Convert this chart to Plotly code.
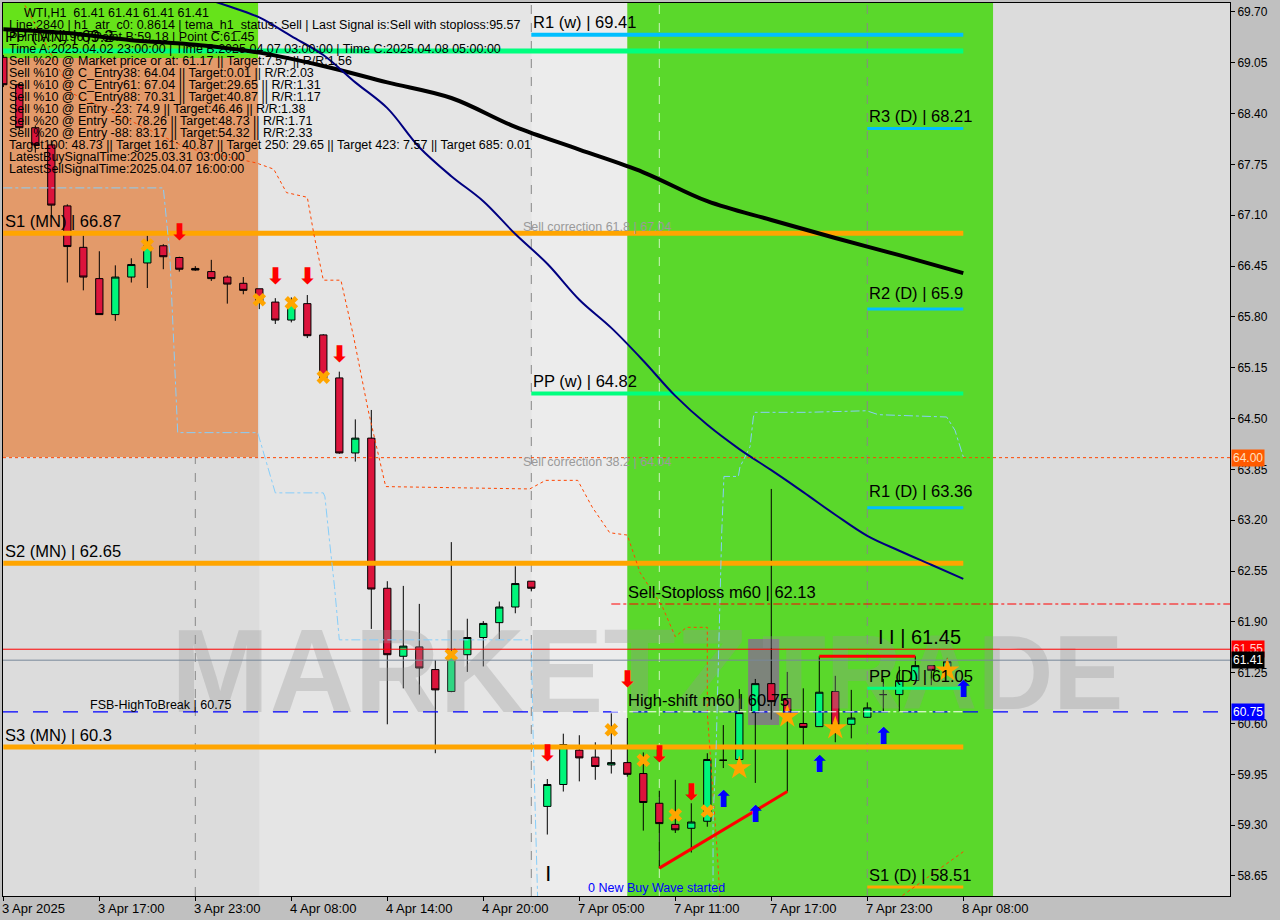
import plotly.graph_objects as go

# ---------------- data ----------------
bars = list(range(60))
opens = [69.12, 68.77, 68.22, 68.00, 67.22, 66.69, 66.29, 65.83, 66.31, 66.49,
         66.71, 66.56, 66.42, 66.38, 66.31, 66.23, 66.16, 65.99, 65.76, 65.97,
         65.57, 65.02, 64.06, 64.25, 62.33, 61.46, 61.58, 61.29, 61.01, 61.48,
         61.70, 61.89, 62.09, 62.42, 59.54, 59.82, 60.26, 60.17, 60.07, 60.10,
         59.96, 59.58, 59.31, 59.26, 59.35, 60.13, 60.14, 60.74, 61.11, 60.92,
         60.60, 60.56, 61.01, 60.59, 60.68, 60.97, 60.97, 61.15, 61.34, 61.28]
highs = [69.15, 68.79, 68.25, 68.06, 67.24, 66.84, 66.64, 66.46, 66.55, 66.84,
         66.73, 66.57, 66.45, 66.53, 66.33, 66.31, 66.16, 66.04, 66.05, 66.08,
         65.58, 65.10, 64.49, 64.61, 62.42, 62.36, 62.13, 61.41, 62.92, 61.94,
         61.91, 62.16, 62.61, 62.42, 59.89, 60.47, 60.45, 60.36, 60.73, 60.67,
         60.23, 59.74, 59.88, 59.58, 60.22, 60.58, 61.04, 61.17, 63.60, 61.26,
         61.05, 61.46, 61.21, 61.03, 60.87, 61.17, 61.33, 61.46, 61.34, 61.44]
lows = [68.74, 68.19, 67.90, 67.08, 66.24, 66.14, 65.83, 65.75, 66.24, 66.17,
        66.41, 66.38, 66.39, 66.26, 65.97, 66.09, 65.90, 65.71, 65.73, 65.53,
        65.02, 64.05, 63.95, 61.81, 60.59, 61.05, 60.97, 60.22, 61.00, 61.26,
        61.33, 61.68, 62.01, 62.29, 59.18, 59.73, 59.86, 59.88, 59.96, 59.92,
        59.23, 58.75, 59.20, 58.95, 59.28, 60.03, 60.14, 59.84, 60.65, 59.73,
        60.33, 60.56, 60.36, 60.41, 60.67, 60.75, 60.75, 61.11, 61.09, 61.28]
closes = [68.77, 68.22, 68.00, 67.23, 66.70, 66.31, 65.83, 66.31, 66.47, 66.71,
          66.57, 66.41, 66.40, 66.29, 66.22, 66.14, 65.99, 65.76, 65.96, 65.56,
          65.02, 64.06, 64.25, 62.32, 61.48, 61.59, 61.31, 61.03, 61.46, 61.70,
          61.88, 62.09, 62.39, 62.33, 59.82, 60.33, 60.16, 60.05, 60.10, 59.95,
          59.59, 59.32, 59.24, 59.34, 60.14, 60.13, 60.74, 61.11, 60.88, 60.65,
          60.55, 61.00, 60.58, 60.67, 60.80, 60.97, 61.15, 61.34, 61.28, 61.39]

tick_bars = [0, 6, 12, 18, 24, 30, 36, 42, 48, 54, 60]
tick_labels = ["3 Apr 2025", "3 Apr 17:00", "3 Apr 23:00", "4 Apr 08:00", "4 Apr 14:00",
               "4 Apr 20:00", "7 Apr 05:00", "7 Apr 11:00", "7 Apr 17:00", "7 Apr 23:00",
               "8 Apr 08:00"]
price_ticks = [58.65, 59.30, 59.95, 60.60, 61.25, 61.90, 62.55, 63.20, 63.85, 64.50,
               65.15, 65.80, 66.45, 67.10, 67.75, 68.40, 69.05, 69.70]

# moving averages
slow_ma_bars = [0, 4, 8, 12, 16, 20, 24, 28, 32, 36, 40, 44, 48, 52, 56, 60]
slow_ma_vals = [69.48, 69.43, 69.34, 69.28, 69.18, 69.01, 68.80, 68.60, 68.23, 67.94,
                67.65, 67.28, 67.04, 66.81, 66.59, 66.36]
fast_ma_bars = [11, 12, 14, 16, 18, 20, 22, 24, 26, 28, 30, 32, 34, 36, 38, 40, 42, 44,
                46, 48, 50, 52, 54, 56, 58, 60]
fast_ma_vals = [69.97, 69.91, 69.78, 69.63, 69.39, 69.15, 68.80, 68.47, 67.97, 67.60,
                67.28, 66.86, 66.48, 66.02, 65.66, 65.24, 64.79, 64.42, 64.11, 63.84,
                63.56, 63.27, 63.00, 62.81, 62.63, 62.45]

# step bands
orange_band_x = [1.0, 4.29, 8.55, 11.48, 15.8, 16.9, 17.7, 19.0, 19.4, 20.0, 21.1, 21.9,
                 22.8, 23.9, 32.9, 33.9, 35.9, 36.8, 37.9, 39.0, 39.8, 41.2, 42.0, 42.7,
                 44.0, 44.0, 44.6, 44.8, None, 56.2, 60.0]
orange_band_y = [69.92, 68.66, 68.25, 67.96, 67.77, 67.69, 67.39, 67.33, 66.87, 66.27,
                 66.27, 65.54, 64.61, 63.63, 63.60, 63.71, 63.71, 63.37, 63.04, 63.01,
                 62.53, 62.09, 61.71, 61.83, 61.83, 60.73, 59.02, 58.34, None, 58.40, 58.96]
blue_band_x = [0.0, 10.0, 10.4, 10.9, 15.9, 16.4, 17.0, 20.0, 20.1, 20.4, 20.7, 21.0,
               33.0, 33.1, 33.2, 33.4, None, 44.36, 44.36, 44.55, 44.79, 44.9, 45.04,
               45.94, 46.04, 46.67, 46.88, 46.98, 50.2, 53.96, 54.69, 58.96, 59.48, 60.0]
blue_band_y = [67.45, 67.45, 66.62, 64.32, 64.32, 63.97, 63.55, 63.55, 63.50, 62.91,
               62.35, 61.67, 61.67, 60.56, 59.88, 58.34, None, 58.43, 59.37, 60.26,
               62.44, 63.03, 63.76, 63.76, 63.88, 64.14, 64.52, 64.58, 64.58, 64.60,
               64.55, 64.52, 64.35, 64.01]

# signals
cross_bars = [9, 16, 18, 20, 28, 38, 40, 42, 44]
cross_vals = [66.72, 66.02, 65.98, 65.03, 61.48, 60.52, 60.13, 59.43, 59.48]
star_bars = [46, 49, 52, 59]
star_vals = [60.03, 60.69, 60.54, 61.28]
sell_arrow_bars = [11, 17, 19, 21, 34, 39, 41, 43]
sell_arrow_vals = [66.86, 66.30, 66.30, 65.30, 60.20, 61.14, 60.18, 59.69]
buy_arrow_bars = [45, 47, 51, 55, 60]
buy_arrow_vals = [59.61, 59.41, 60.05, 60.41, 61.01]

trend_bars = [41, 49]
trend_vals = [58.75, 59.73]
top_bars = [51, 57]
top_vals = [61.46, 61.46]

# pivot levels: name, value, start bar, end bar, colour, width
level_names = ["PP (MN)", "S1 (MN)", "S2 (MN)", "S3 (MN)", "R1 (w)", "PP (w)",
               "R3 (D)", "R2 (D)", "R1 (D)", "PP (D)", "S1 (D)"]
level_values = [69.2, 66.87, 62.65, 60.3, 69.41, 64.82, 68.21, 65.9, 63.36, 61.05, 58.51]
level_start = [0, 0, 0, 0, 33, 33, 54, 54, 54, 54, 54]
level_end = [60, 60, 60, 60, 60, 60, 60, 60, 60, 60, 60]
level_colors = ["#00FF7F", "#FFA500", "#FFA500", "#FFA500", "#00BFFF", "#00FF7F",
                "#00BFFF", "#00BFFF", "#00BFFF", "#00FF7F", "#FFA500"]
level_widths = [5, 5, 5, 5, 4, 4, 3, 3, 3, 3, 3]

# ---------------- figure ----------------
FONT = "Liberation Sans, Arial, sans-serif"
X0, X1, Y0, Y1 = 3, 1230, 3, 896


def px(x):
    return (x - X0) / (X1 - X0)


def py(y):
    return (Y1 - y) / (Y1 - Y0)


fig = go.Figure()

# watermark
fig.add_trace(go.Scatter(x=[28.5], y=[61.12], mode="text", text=["<b>MARKETZ</b>"],
                         textfont=dict(size=118, color="rgba(150,150,150,0.32)", family=FONT),
                         hoverinfo="skip", showlegend=False))
fig.add_trace(go.Scatter(x=[58.7], y=[61.12], mode="text", text=["<b>TRADE</b>"],
                         textfont=dict(size=105, color="rgba(150,150,150,0.32)", family=FONT),
                         hoverinfo="skip", showlegend=False))

fig.add_trace(go.Candlestick(
    x=bars, open=opens, high=highs, low=lows, close=closes,
    increasing=dict(line=dict(color="black", width=1), fillcolor="#00F57A"),
    decreasing=dict(line=dict(color="black", width=1), fillcolor="#DC143C"),
    whiskerwidth=0, showlegend=False, hoverinfo="skip"))

for nm, v, s, e, c, w in zip(level_names, level_values, level_start, level_end,
                             level_colors, level_widths):
    fig.add_trace(go.Scatter(x=[s, e], y=[v, v], mode="lines", line=dict(color=c, width=w),
                             showlegend=False, hoverinfo="skip"))

fig.add_trace(go.Scatter(x=orange_band_x, y=orange_band_y, mode="lines",
                         line=dict(color="#FF4500", width=1, dash="dot"),
                         showlegend=False, hoverinfo="skip"))
fig.add_trace(go.Scatter(x=blue_band_x, y=blue_band_y, mode="lines",
                         line=dict(color="#87CEFA", width=1, dash="dashdot"),
                         showlegend=False, hoverinfo="skip"))
fig.add_trace(go.Scatter(x=slow_ma_bars, y=slow_ma_vals, mode="lines",
                         line=dict(color="black", width=4, shape="spline"),
                         showlegend=False, hoverinfo="skip"))
fig.add_trace(go.Scatter(x=fast_ma_bars, y=fast_ma_vals, mode="lines",
                         line=dict(color="#000080", width=2, shape="spline"),
                         showlegend=False, hoverinfo="skip"))
fig.add_trace(go.Scatter(x=trend_bars, y=trend_vals, mode="lines",
                         line=dict(color="#FF0000", width=3), showlegend=False, hoverinfo="skip"))
fig.add_trace(go.Scatter(x=top_bars, y=top_vals, mode="lines",
                         line=dict(color="#FF0000", width=3), showlegend=False, hoverinfo="skip"))

fig.add_trace(go.Scatter(x=cross_bars, y=cross_vals, mode="markers",
                         marker=dict(symbol="x", size=12, color="#FFA500", line=dict(width=0)),
                         showlegend=False, hoverinfo="skip"))
fig.add_trace(go.Scatter(x=star_bars, y=star_vals, mode="markers",
                         marker=dict(symbol="star", size=18, color="#FFA500", line=dict(width=0)),
                         showlegend=False, hoverinfo="skip"))
fig.add_trace(go.Scatter(x=sell_arrow_bars, y=sell_arrow_vals, mode="text",
                         text=["<b>⬇</b>"] * len(sell_arrow_bars),
                         textfont=dict(size=23, color="#FF0000", family="DejaVu Sans"),
                         showlegend=False, hoverinfo="skip"))
fig.add_trace(go.Scatter(x=buy_arrow_bars, y=buy_arrow_vals, mode="text",
                         text=["<b>⬆</b>"] * len(buy_arrow_bars),
                         textfont=dict(size=23, color="#0000FF", family="DejaVu Sans"),
                         showlegend=False, hoverinfo="skip"))

shapes = [
    dict(type="rect", xref="x", yref="paper", x0=16, x1=33, y0=0, y1=1,
         fillcolor="rgba(255,255,255,0.25)", line_width=0, layer="below"),
    dict(type="rect", xref="x", yref="paper", x0=33, x1=39, y0=0, y1=1,
         fillcolor="rgba(255,255,255,0.45)", line_width=0, layer="below"),
    dict(type="rect", xref="x", yref="y", x0=-1, x1=15.92, y0=64.01, y1=69.11,
         fillcolor="#E39A6A", line_width=0, layer="below"),
    dict(type="rect", xref="x", yref="y", x0=-1, x1=15.92, y0=69.11, y1=70.5,
         fillcolor="#66E31A", line_width=0, layer="below"),
    dict(type="rect", xref="x", yref="paper", x0=39, x1=61.86, y0=0, y1=1,
         fillcolor="#5AD82B", line_width=0, layer="below"),
    dict(type="rect", xref="x", yref="y", x0=46.55, x1=48.49, y0=60.58, y1=61.68,
         fillcolor="rgba(128,128,128,0.95)", line_width=0, layer="below"),
]
for b in [12, 33, 54]:
    shapes.append(dict(type="line", xref="x", yref="paper", x0=b, x1=b, y0=0, y1=1,
                       line=dict(color="#888888", width=1, dash="dash"), layer="below"))
shapes.append(dict(type="line", xref="x", yref="paper", x0=41, x1=41, y0=0, y1=1,
                   line=dict(color="rgba(255,255,255,0.7)", width=1, dash="dash"), layer="below"))
# full-width / partial horizontal reference lines
shapes += [
    dict(type="line", xref="paper", yref="y", x0=0, x1=1, y0=64.00, y1=64.00,
         line=dict(color="#FF4500", width=1, dash="dot")),
    dict(type="line", xref="paper", yref="y", x0=0, x1=1, y0=61.55, y1=61.55,
         line=dict(color="#FF0000", width=1)),
    dict(type="line", xref="paper", yref="y", x0=0, x1=1, y0=61.41, y1=61.41,
         line=dict(color="#778899", width=1)),
    dict(type="line", xref="paper", yref="y", x0=0, x1=1, y0=60.75, y1=60.75,
         line=dict(color="#0000FF", width=1.2, dash="longdash")),
    dict(type="line", xref="x", yref="y", x0=38, x1=60, y0=60.75, y1=60.75,
         line=dict(color="white", width=1, dash="dashdot")),
    dict(type="line", xref="x", yref="paper", x0=38, x1=80, y0=py(604), y1=py(604),
         line=dict(color="#FF0000", width=1.2, dash="dashdot")),
]

ann = []


def T(text, x, y, size=12.5, color="black"):
    ann.append(dict(text=text, x=px(x), y=py(y), xref="paper", yref="paper", xanchor="left",
                    yanchor="middle", showarrow=False,
                    font=dict(size=size, color=color, family=FONT)))


rows = [
    ("WTI,H1  61.41 61.41 61.41 61.41", 22, 13),
    ("Line:2840 | h1_atr_c0: 0.8614 | tema_h1_status: Sell | Last Signal is:Sell with stoploss:95.57", 7, 25),
    ("Point A:71.96 | Point B:59.18 | Point C:61.45", 7, 37),
    ("Time A:2025.04.02 23:00:00 | Time B:2025.04.07 03:00:00 | Time C:2025.04.08 05:00:00", 7, 49),
    ("Sell %20 @ Market price or at: 61.17 || Target:7.57 || R/R:1.56", 7, 61),
    ("Sell %10 @ C_Entry38: 64.04 || Target:0.01 || R/R:2.03", 7, 73),
    ("Sell %10 @ C_Entry61: 67.04 || Target:29.65 || R/R:1.31", 7, 85),
    ("Sell %10 @ C_Entry88: 70.31 || Target:40.87 || R/R:1.17", 7, 97),
    ("Sell %10 @ Entry -23: 74.9 || Target:46.46 || R/R:1.38", 7, 109),
    ("Sell %20 @ Entry -50: 78.26 || Target:48.73 || R/R:1.71", 7, 121),
    ("Sell %20 @ Entry -88: 83.17 || Target:54.32 || R/R:2.33", 7, 133),
    ("Target100: 48.73 || Target 161: 40.87 || Target 250: 29.65 || Target 423: 7.57 || Target 685: 0.01", 7, 145),
    ("LatestBuySignalTime:2025.03.31 03:00:00", 7, 157),
    ("LatestSellSignalTime:2025.04.07 16:00:00", 7, 169),
]
for t, x, y in rows:
    T(t, x, y)

T("PP (MN) | 69.2", 3, 36, 16.5)
big_labels = [
    ("R1 (w) | 69.41", 531, 22), ("PP (w) | 64.82", 531, 381),
    ("R3 (D) | 68.21", 867, 116), ("R2 (D) | 65.9", 867, 293),
    ("R1 (D) | 63.36", 867, 491), ("PP (D) | 61.05", 867, 676),
    ("S1 (D) | 58.51", 867, 875), ("S1 (MN) | 66.87", 3, 221),
    ("S2 (MN) | 62.65", 3, 551), ("S3 (MN) | 60.3", 3, 735),
    ("Sell-Stoploss m60 | 62.13", 626, 592), ("High-shift m60 | 60.75", 626, 700),
]
for t, x, y in big_labels:
    T(t, x, y, 16.5)
T("I I | 61.45", 876, 637, 20)
T("FSB-HighToBreak | 60.75", 88, 705, 12.5)
T("Sell correction 61.8 | 67.04", 521, 227, 12.5, "#9A9A9A")
T("Sell correction 38.2 | 64.04", 521, 462, 12.5, "#9A9A9A")
T("0 New Buy Wave started", 586, 888, 12.5, "#0000FF")
T("<b>|</b>", 544, 872, 16)

# bottom time labels
for b, lab in zip(tick_bars, tick_labels):
    ann.append(dict(text=lab, x=b, y=0, xref="x", yref="paper", xanchor="left",
                    yanchor="top", yshift=-3, xshift=-3, showarrow=False,
                    font=dict(size=13, color="black", family=FONT)))

# right-axis price boxes
for v, bg, fc in [(64.00, "#FF5A00", "#FFE0C0"), (61.55, "#FF0000", "#FFD0D0"),
                  (61.41, "#000000", "white"), (60.75, "#0000FF", "white")]:
    ann.append(dict(text=f"{v:.2f}", x=1, y=v, xref="paper", yref="y", xanchor="left",
                    yanchor="middle", xshift=1, showarrow=False, bgcolor=bg, borderpad=1,
                    font=dict(size=12, color=fc, family=FONT)))

fig.update_layout(
    width=1280, height=920,
    margin=dict(l=X0, r=1280 - X1, t=Y0, b=920 - Y1, autoexpand=False),
    paper_bgcolor="#C0C0C0", plot_bgcolor="#DCDCDC",
    shapes=shapes, annotations=ann, showlegend=False, boxgap=0.35,
    font=dict(family=FONT, color="black"),
    xaxis=dict(range=[-0.02, 76.67], showgrid=False, zeroline=False, rangeslider=dict(visible=False),
               tickvals=tick_bars, ticks="outside", ticklen=4, tickcolor="black",
               showticklabels=False, showline=True, linecolor="black", mirror=True),
    yaxis=dict(range=[58.394, 69.815], side="right", showgrid=False, zeroline=False,
               tickvals=price_ticks, ticktext=[f"{p:.2f}" for p in price_ticks],
               ticks="outside", ticklen=4, tickcolor="black",
               tickfont=dict(size=12, color="black", family=FONT),
               showline=True, linecolor="black", mirror=True),
)

fig.write_html("out.html", config={"displayModeBar": False},
               post_script="document.body.style.margin='0';document.body.style.overflow='hidden';")
